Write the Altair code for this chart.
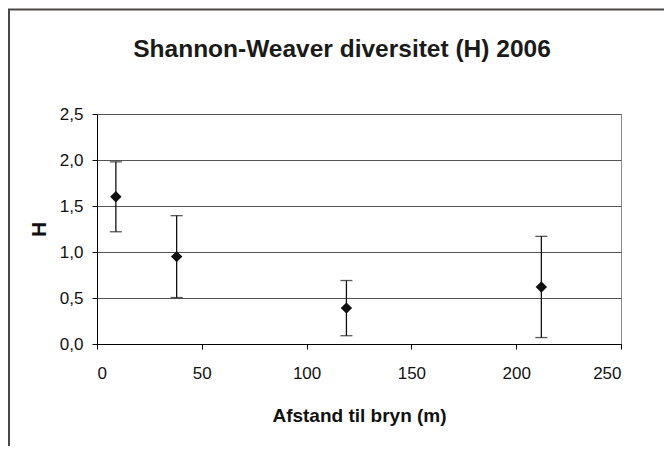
import altair as alt
import pandas as pd

# Data
distance = [9, 38, 119, 212]          # Afstand til bryn (m)
h_mean = [1.60, 0.95, 0.39, 0.62]     # Shannon-Weaver H
h_err = [0.38, 0.445, 0.30, 0.55]     # error bar half-length

x_ticks = [0, 50, 100, 150, 200, 250]
y_ticks = [0.0, 0.5, 1.0, 1.5, 2.0, 2.5]
title_text = "Shannon-Weaver diversitet (H) 2006"

df = pd.DataFrame({"d": distance, "h": h_mean, "e": h_err})
df["lo"] = df["h"] - df["e"]
df["hi"] = df["h"] + df["e"]

FONT = "Liberation Sans, Arial"

x_scale = alt.Scale(domain=[0, 250], nice=False)
y_scale = alt.Scale(domain=[0, 2.5], nice=False)

x_axis = alt.Axis(
    title="Afstand til bryn (m)", values=x_ticks, grid=False,
    domainColor="#000000", tickColor="#000000", tickSize=5,
    labelFont=FONT, labelFontSize=17, labelColor="#111111", labelPadding=16,
    titleFont=FONT, titleFontSize=19, titleFontWeight="bold", titleColor="#111111",
    titleY=62,
)
y_axis = alt.Axis(
    title="H", values=y_ticks, grid=True, gridColor="#555555", gridWidth=1,
    domainColor="#000000", tickColor="#000000", tickSize=5,
    labelFont=FONT, labelFontSize=17, labelColor="#111111", labelPadding=9,
    labelExpr="replace(format(datum.value, '.1f'), '.', ',')",
    titleFont=FONT, titleFontSize=21, titleFontWeight="bold", titleColor="#111111",
    titleX=-48, titleY=115,
)

base = alt.Chart(df)

bars = base.mark_rule(color="#111111", strokeWidth=1.3).encode(
    x=alt.X("d:Q", scale=x_scale, axis=x_axis),
    y=alt.Y("lo:Q", scale=y_scale, axis=y_axis),
    y2="hi:Q",
)
cap_lo = base.mark_tick(orient="horizontal", color="#111111", size=12, thickness=1.3).encode(
    x=alt.X("d:Q", scale=x_scale), y=alt.Y("lo:Q", scale=y_scale)
)
cap_hi = base.mark_tick(orient="horizontal", color="#111111", size=12, thickness=1.3).encode(
    x=alt.X("d:Q", scale=x_scale), y=alt.Y("hi:Q", scale=y_scale)
)
pts = base.mark_point(shape="diamond", filled=True, size=130, color="#111111", opacity=1).encode(
    x=alt.X("d:Q", scale=x_scale), y=alt.Y("h:Q", scale=y_scale)
)

title_df = pd.DataFrame({"t": [title_text]})
title = alt.Chart(title_df).mark_text(
    font=FONT, fontSize=24.5, fontWeight="bold", color="#1a1a1a",
    align="center", baseline="alphabetic",
).encode(text="t:N", x=alt.value(245), y=alt.value(-57))

# chart frame lines (decoration)
frame_top = alt.Chart(title_df).mark_rule(color="#4a4846", strokeWidth=2).encode(
    x=alt.value(-89), x2=alt.value(567), y=alt.value(-104.5)
)
frame_left = alt.Chart(title_df).mark_rule(color="#4a4846", strokeWidth=2).encode(
    x=alt.value(-88), y=alt.value(-105), y2=alt.value(332)
)

chart = alt.layer(frame_top, frame_left, title, bars, cap_lo, cap_hi, pts).properties(
    width=524, height=230,
    padding={"left": 89, "top": 106, "right": 43, "bottom": 102},
    autosize="none",
    background="#ffffff",
).configure_view(stroke="#8a8a8a", strokeWidth=1)

chart.save("out.html", embed_options={"renderer": "svg", "actions": False})
